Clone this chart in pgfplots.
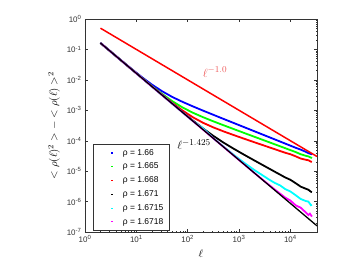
\documentclass[border=0pt]{standalone}
\usepackage{fontspec}
\setmainfont{Liberation Sans}
\usepackage{pgfplots}
\pgfplotsset{compat=1.18}
\definecolor{annred}{rgb}{0.93,0.33,0.33}
\definecolor{cyanb}{rgb}{0,1,1}
\definecolor{greenb}{rgb}{0,1,0}
\definecolor{magb}{rgb}{1,0,1}
\begin{document}
\begin{tikzpicture}
\path[use as bounding box] (-85bp,-31bp) rectangle (264bp,232bp);
\begin{axis}[
  xmode=log, ymode=log,
  scale only axis, width=232bp, height=213bp,
  xmin=1, xmax=3.3e4, ymin=1e-7, ymax=1,
  xtick={1,10,100,1000,10000},
  xticklabels={10\textsuperscript{0},10\textsuperscript{1},10\textsuperscript{2},10\textsuperscript{3},10\textsuperscript{4}},
  ytick={1e-7,1e-6,1e-5,1e-4,1e-3,1e-2,1e-1,1},
  yticklabels={10\textsuperscript{-7},10\textsuperscript{-6},10\textsuperscript{-5},10\textsuperscript{-4},10\textsuperscript{-3},10\textsuperscript{-2},10\textsuperscript{-1},10\textsuperscript{0}},
  tick label style={font=\fontsize{8}{9}\selectfont, text=black!80},
  tick align=inside, major tick length=3bp, minor tick length=1.5bp,
  axis line style={line width=0.5pt, black!80},
  every tick/.style={black!80, line width=0.4pt},
  xlabel={$\ell$}, ylabel={$<\rho(\ell)^2> - <\rho(\ell)>^2$},
  label style={font=\fontsize{11}{12}\selectfont},
  legend cell align=left,
  legend style={at={(0.0345,0.413)}, anchor=north west, draw=black!80, line width=0.5pt,
    font=\fontsize{8.5}{10}\selectfont, row sep=2.4pt, inner xsep=4pt, inner ysep=3pt},
  legend image code/.code={\path (0pt,0pt) (22pt,0pt); \fill[#1, draw=none] (13.4pt,-0.6pt) rectangle ++(1.2pt,1.2pt);},
]
% rho = 1.66
\addplot[blue, line width=1.8pt] coordinates {
(2,0.1629)(3.162,0.08502)(5.012,0.04441)(7.943,0.02342)(12.59,0.012575)(19.95,7.055e-3)
(31.62,4.241e-3)(50.12,2.738e-3)(79.43,1.890e-3)(125.9,1.347e-3)(199.5,9.739e-4)(316.2,7.104e-4)
(501.2,5.188e-4)(794.3,3.802e-4)(1259,2.786e-4)(1995,2.042e-4)(3162,1.496e-4)(5012,1.096e-4)
(7943,8.035e-5)(12589,5.888e-5)(15849,5.1e-5)(19953,4.315e-5)(22387,3.9e-5)(26303,3.581e-5)};
\addlegendentry{ρ = 1.66}
% rho = 1.665
\addplot[greenb, line width=1.8pt] coordinates {
(2,0.1626)(3.162,0.08472)(5.012,0.04400)(7.943,0.02291)(12.59,0.011995)(19.95,6.353e-3)
(31.62,3.467e-3)(50.12,1.993e-3)(79.43,1.237e-3)(125.9,8.327e-4)(199.5,5.923e-4)(316.2,4.330e-4)
(501.2,3.217e-4)(794.3,2.402e-4)(1259,1.797e-4)(1995,1.347e-4)(3162,1.010e-4)(5012,7.577e-5)
(7943,5.682e-5)(12589,4.261e-5)(15849,3.6e-5)(19953,3.195e-5)(22387,3.05e-5)(26303,2.689e-5)};
\addlegendentry{ρ = 1.665}
% rho = 1.668
\addplot[red, line width=1.8pt] coordinates {
(2,0.1626)(3.162,0.08464)(5.012,0.04394)(7.943,0.02281)(12.59,0.011867)(19.95,6.193e-3)
(31.62,3.259e-3)(50.12,1.752e-3)(79.43,9.817e-4)(125.9,5.909e-4)(199.5,3.878e-4)(316.2,2.738e-4)
(501.2,2.021e-4)(794.3,1.526e-4)(1259,1.163e-4)(1995,8.892e-5)(3162,6.823e-5)(5012,5.236e-5)
(7943,4.018e-5)(10000,3.6e-5)(12589,3.083e-5)(15849,2.6e-5)(19953,2.366e-5)(22387,2.28e-5)(25119,2.05e-5)(26303,2.018e-5)};
\addlegendentry{ρ = 1.668}
% rho = 1.671
\addplot[black, line width=1.8pt] coordinates {
(2,0.1626)(3.162,0.08463)(5.012,0.04390)(7.943,0.02278)(12.59,0.011817)(19.95,6.131e-3)
(31.62,3.188e-3)(50.12,1.661e-3)(79.43,8.701e-4)(125.9,4.624e-4)(199.5,2.526e-4)(316.2,1.439e-4)
(501.2,8.621e-5)(794.3,5.401e-5)(1259,3.456e-5)(1995,2.239e-5)(3162,1.458e-5)(5012,9.495e-6)
(7943,6.202e-6)(10000,5.2e-6)(12589,4.050e-6)(15849,3.1e-6)(19953,2.646e-6)(22387,2.45e-6)(25119,2.1e-6)(26303,2.049e-6)};
\addlegendentry{ρ = 1.671}
% rho = 1.6715
\addplot[cyanb, line width=1.8pt] coordinates {
(2,0.1626)(3.162,0.08463)(5.012,0.04390)(7.943,0.02278)(12.59,0.011817)(19.95,6.131e-3)
(31.62,3.181e-3)(50.12,1.650e-3)(79.43,8.562e-4)(125.9,4.441e-4)(199.5,2.535e-4)(316.2,1.206e-4)
(501.2,6.346e-5)(794.3,3.400e-5)(1259,1.879e-5)(1995,1.085e-5)(3162,6.562e-6)(3981,5.1e-6)(5012,4.074e-6)(6310,3.4e-6)
(7943,2.567e-6)(10000,2.15e-6)(12589,1.631e-6)(15849,1.22e-6)(19953,1.041e-6)(22387,1.0e-6)(25119,7.6e-7)(26303,7.934e-7)};
\addlegendentry{ρ = 1.6715}
% rho = 1.6718
\addplot[magb, line width=1.8pt] coordinates {
(2,0.1626)(3.162,0.08463)(5.012,0.04390)(7.943,0.02278)(12.59,0.011817)(19.95,6.131e-3)
(31.62,3.181e-3)(50.12,1.650e-3)(79.43,8.562e-4)(125.9,4.441e-4)(199.5,2.304e-4)(316.2,1.196e-4)
(501.2,6.202e-5)(794.3,3.217e-5)(1259,1.669e-5)(1995,8.690e-6)(3162,4.597e-6)(5012,2.458e-6)
(7943,1.347e-6)(10000,1.08e-6)(12589,7.614e-7)(15849,6.3e-7)(19953,4.410e-7)(22387,3.6e-7)(24000,4.0e-7)(26303,3.210e-7)};
\addlegendentry{ρ = 1.6718}
% reference lines
\addplot[red, line width=1.5pt, forget plot] coordinates {(2,0.5)(33000,3.03e-5)};
\addplot[black, line width=1.3pt, forget plot] coordinates {(2,0.1626)(33000,1.59e-7)};
\node[text=annred, font=\fontsize{13}{14}\selectfont] at (axis cs:340,0.018) {$\ell^{-1.0}$};
\node[text=black, font=\fontsize{13}{14}\selectfont] at (axis cs:133,7.4e-5) {$\ell^{-1.425}$};
\end{axis}
\end{tikzpicture}
\end{document}
